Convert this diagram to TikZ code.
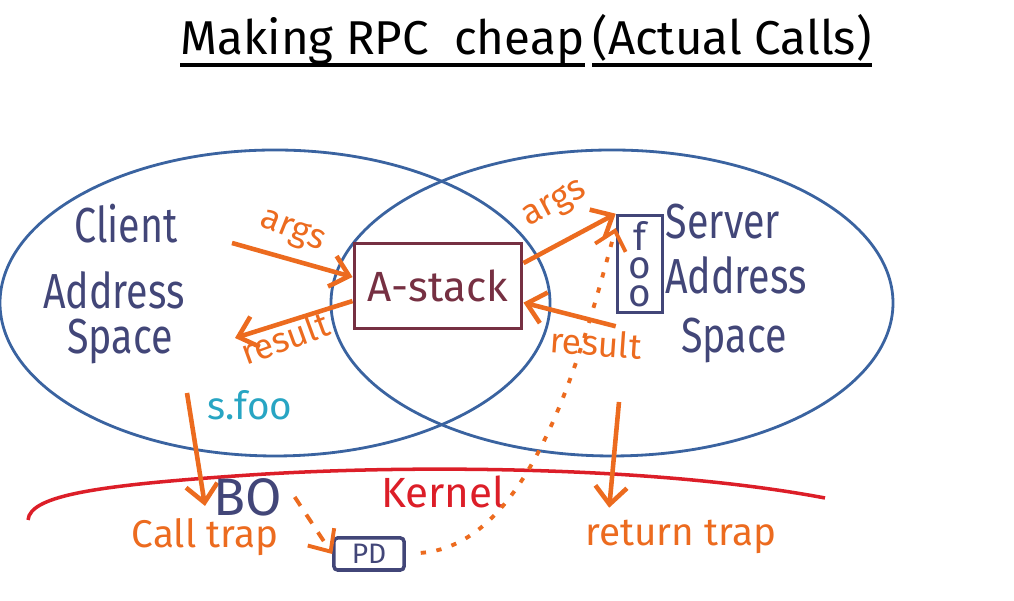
\documentclass[tikz,border=0pt]{standalone}
\usepackage{fontspec}
\setmainfont{Fira Sans}
\usetikzlibrary{arrows.meta,positioning}
\definecolor{ellblue}{RGB}{58,99,160}
\definecolor{orng}{RGB}{236,107,31}
\definecolor{ink}{RGB}{66,70,120}
\definecolor{stackred}{RGB}{118,48,66}
\definecolor{kred}{RGB}{220,30,40}
\definecolor{callteal}{RGB}{40,165,195}
\begin{document}
\begin{tikzpicture}[x=0.01cm, y=-0.01cm,
    space/.style={draw=ellblue, line width=0.8pt},
    hand/.style={draw=orng, line width=1.3pt, -{Straight Barb[length=5pt,width=9pt]}},
    big/.style={text=ink, font=\fontsize{14}{16}\selectfont, xscale=0.8},
    lbl/.style={text=orng, font=\fontsize{10}{12}\selectfont},
    trap/.style={text=orng, font=\fontsize{11}{13}\selectfont},
    titletext/.style={font=\fontsize{13.5}{16}\selectfont, anchor=base west, inner sep=0pt}]
    \useasboundingbox (0,0) rectangle (1014,601);

    % Title
    \node[titletext] (title) at (180,55) {Making RPC\ \ cheap};
    \node[titletext] (subtitle) at (592,55) {(Actual Calls)};
    \draw[line width=1.2pt] ([yshift=-0.1cm]title.base west) -- ([yshift=-0.1cm]title.base east);
    \draw[line width=1.2pt] ([yshift=-0.1cm]subtitle.base west) -- ([yshift=-0.1cm]subtitle.base east);

    % Address spaces
    \draw[space] (275,303) ellipse [x radius=275, y radius=153];
    \draw[space] (612,303) ellipse [x radius=281, y radius=153];

    \node[big] (client) at (126,224) {Client};
    \node[big] (caddr) at (114,290) {Address};
    \node[big] (cspace) at (120,342) {Space};

    \node[big] (server) at (723,222) {Server};
    \node[big] (saddr) at (736,275) {Address};
    \node[big] (sspace) at (734,340) {Space};

    % A-stack and foo
    \node[draw=stackred, line width=1.1pt, text=stackred, minimum width=1.67cm, minimum height=0.85cm,
        font=\fontsize{12}{14}\selectfont] (astack) at (438,286) {A-stack};
    \node[draw=ink, line width=1pt, text=ink, minimum width=0.45cm, minimum height=0.97cm, inner sep=1pt,
        align=center, font=\fontsize{11}{8}\selectfont] (foo) at (640,264) {f\\o\\o};

    % args / result on the client side
    \coordinate (argsin) at (232,243);
    \coordinate (resout) at (235,338);
    \draw[hand] (argsin) -- (astack.174);
    \node[lbl, rotate=-22] (args1) at (292,232) {args};
    \draw[hand] (astack.190) -- (resout);
    \node[lbl, rotate=20] (result1) at (285,338) {result};

    % args / result on the server side
    \draw[hand] (astack.15) -- (foo.north west);
    \node[lbl, rotate=28] (args2) at (555,205) {args};
    \draw[hand] ([yshift=-0.12cm]foo.south west) -- (astack.-11);
    \node[lbl, rotate=-4] (result2) at (596,343) {result};

    % Kernel boundary
    \draw[kred, line width=1pt] (28,520) .. controls (30,495) and (100,485) .. (250,475)
        .. controls (400,465) and (650,465) .. (825,498);
    \node[text=kred, font=\fontsize{12}{14}\selectfont] (kernel) at (443,492) {Kernel};

    % Traps
    \node[trap] (calltrap) at (205,537) {Call trap};
    \node[trap] (rettrap) at (681,537) {return trap};
    \coordinate (sfoo) at (187,393);
    \coordinate (ret) at (619,402);
    \draw[hand] (sfoo) -- (calltrap.north);
    \node[text=callteal, font=\fontsize{11}{13}\selectfont] (sfoolbl) at (250,405) {s.foo};
    \draw[hand] (ret) -- ([xshift=0.36cm]rettrap.north west);

    % BO and PD
    \node[text=ink, font=\fontsize{15}{17}\selectfont] (bo) at (248,497) {BO};
    \node[draw=ink, line width=1pt, text=ink, rounded corners=1pt, minimum width=0.7cm, minimum height=0.32cm,
        inner sep=1pt, font=\fontsize{8}{9}\selectfont] (pd) at (369,554) {PD};
    \draw[hand, line width=1.1pt, dashed] (bo.east) -- (pd.west);
    \draw[hand, line width=1.1pt, dash pattern=on 1.5pt off 3pt, shorten <=0.15cm]
        (pd.east) .. controls (530,545) and (580,360) .. (foo.124);
\end{tikzpicture}
\end{document}
